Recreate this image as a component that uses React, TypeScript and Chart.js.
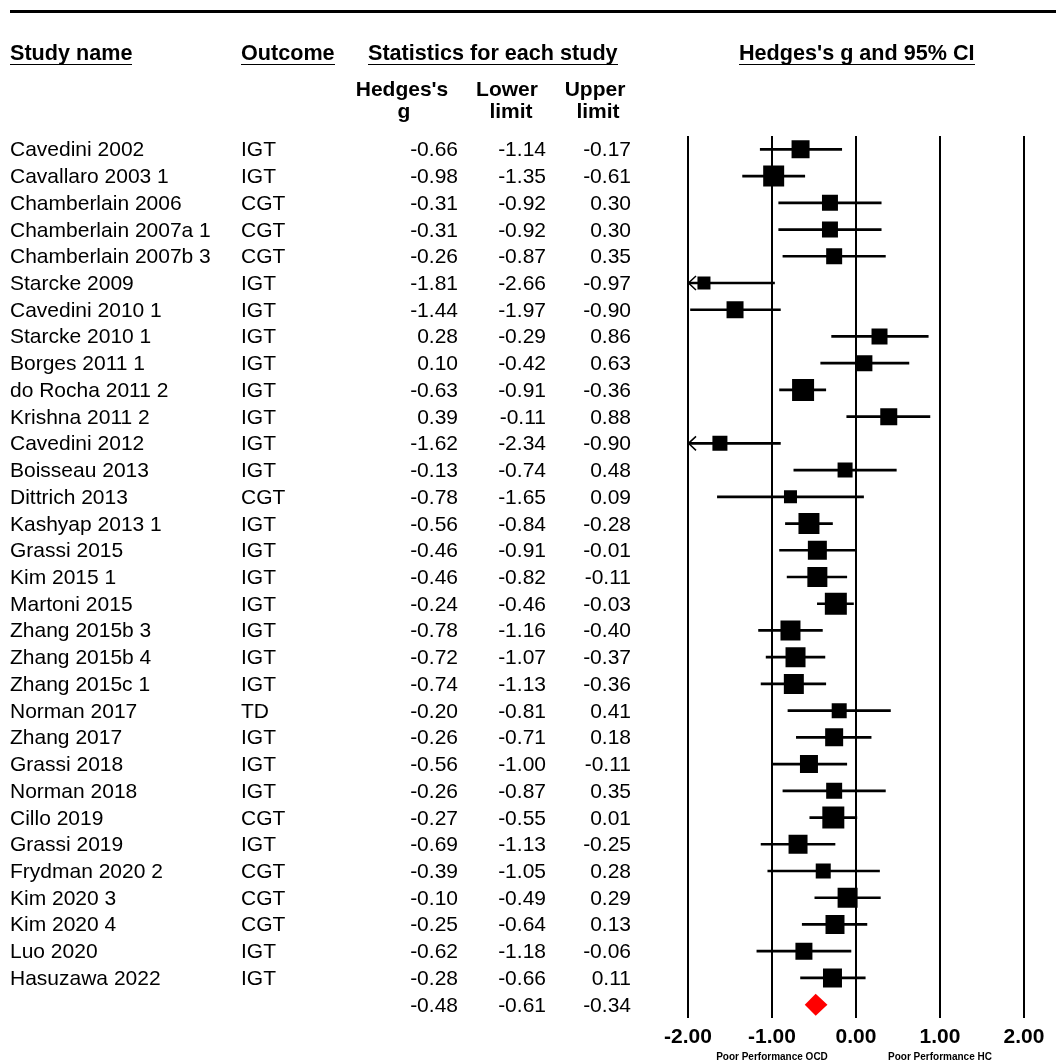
import React, { useEffect, useRef } from "react";
import { Chart, registerables } from "chart.js";

Chart.register(...registerables);

const studies = [
  "Cavedini 2002", "Cavallaro 2003 1", "Chamberlain 2006", "Chamberlain 2007a 1",
  "Chamberlain 2007b 3", "Starcke 2009", "Cavedini 2010 1", "Starcke 2010 1",
  "Borges 2011 1", "do Rocha 2011 2", "Krishna 2011 2", "Cavedini 2012",
  "Boisseau 2013", "Dittrich 2013", "Kashyap 2013 1", "Grassi 2015",
  "Kim 2015 1", "Martoni 2015", "Zhang 2015b 3", "Zhang 2015b 4",
  "Zhang 2015c 1", "Norman 2017", "Zhang 2017", "Grassi 2018",
  "Norman 2018", "Cillo 2019", "Grassi 2019", "Frydman 2020 2",
  "Kim 2020 3", "Kim 2020 4", "Luo 2020", "Hasuzawa 2022",
];
const outcomes = [
  "IGT", "IGT", "CGT", "CGT", "CGT", "IGT", "IGT", "IGT",
  "IGT", "IGT", "IGT", "IGT", "IGT", "CGT", "IGT", "IGT",
  "IGT", "IGT", "IGT", "IGT", "IGT", "TD", "IGT", "IGT",
  "IGT", "CGT", "IGT", "CGT", "CGT", "CGT", "IGT", "IGT",
];
const hedgesG = [
  -0.66, -0.98, -0.31, -0.31, -0.26, -1.81, -1.44, 0.28,
  0.10, -0.63, 0.39, -1.62, -0.13, -0.78, -0.56, -0.46,
  -0.46, -0.24, -0.78, -0.72, -0.74, -0.20, -0.26, -0.56,
  -0.26, -0.27, -0.69, -0.39, -0.10, -0.25, -0.62, -0.28,
];
const lowerLimit = [
  -1.14, -1.35, -0.92, -0.92, -0.87, -2.66, -1.97, -0.29,
  -0.42, -0.91, -0.11, -2.34, -0.74, -1.65, -0.84, -0.91,
  -0.82, -0.46, -1.16, -1.07, -1.13, -0.81, -0.71, -1.00,
  -0.87, -0.55, -1.13, -1.05, -0.49, -0.64, -1.18, -0.66,
];
const upperLimit = [
  -0.17, -0.61, 0.30, 0.30, 0.35, -0.97, -0.90, 0.86,
  0.63, -0.36, 0.88, -0.90, 0.48, 0.09, -0.28, -0.01,
  -0.11, -0.03, -0.40, -0.37, -0.36, 0.41, 0.18, -0.11,
  0.35, 0.01, -0.25, 0.28, 0.29, 0.13, -0.06, 0.11,
];
// relative weights (%)
const weights = [
  3.12, 4.24, 2.46, 2.46, 2.46, 1.63, 2.78, 2.46,
  2.46, 4.66, 2.78, 2.17, 2.17, 1.63, 4.24, 3.47,
  3.85, 4.66, 3.85, 3.85, 3.85, 2.17, 3.12, 3.12,
  2.46, 4.66, 3.47, 2.17, 3.85, 3.47, 2.78, 3.47,
];
const summaryValues = [-0.48, -0.61, -0.34]; // g, lower, upper
const xTicks = [-2, -1, 0, 1, 2];
const xAxisNotes = ["Poor Performance OCD", "Poor Performance HC"];
const xAxisNoteAt = [-1, 1];

const W = 1056;
const H = 1063;
const PLOT_LEFT = 688;
const PLOT_RIGHT = 1024;
const PLOT_TOP = 136;
const PLOT_BOTTOM = 1018;
const N_ROWS = studies.length + 1;
const ROW_H = (PLOT_BOTTOM - PLOT_TOP) / N_ROWS;
const rowY = (i: number) => PLOT_TOP + (i + 0.5) * ROW_H;
const FONT = '"Liberation Sans", Arial, Helvetica, sans-serif';
const FS = 21;
const HFS = 21.6;
const LH = 24;
const X_MIN = -2;
const X_MAX = 2;
const pxPerUnit = (PLOT_RIGHT - PLOT_LEFT) / (X_MAX - X_MIN);
const xPix = (v: number) => PLOT_LEFT + (v - X_MIN) * pxPerUnit;

const fmt = (v: number) => v.toFixed(2);

type TxtProps = {
  x: number;
  y: number;
  align?: "left" | "right" | "center";
  bold?: boolean;
  size?: number;
  underline?: boolean;
  children: React.ReactNode;
};

function Txt({ x, y, align = "left", bold = false, size = FS, underline = false, children }: TxtProps) {
  const lh = underline ? 23 : LH;
  const boxW = 400;
  let left = x;
  if (align === "right") left = x - boxW;
  if (align === "center") left = x - boxW / 2;
  const style: React.CSSProperties = {
    position: "absolute",
    left,
    top: y - lh / 2,
    width: align === "left" ? undefined : boxW,
    textAlign: align,
    whiteSpace: "nowrap",
    fontFamily: FONT,
    fontSize: size,
    fontWeight: bold ? "bold" : "normal",
    lineHeight: lh + "px",
    color: "#000",
  };
  return (
    <div style={style}>
      {underline ? (
        <span style={{ display: "inline-block", borderBottom: "1.5px solid #000", lineHeight: lh + "px" }}>
          {children}
        </span>
      ) : (
        children
      )}
    </div>
  );
}

const forestPlugin = {
  id: "forestExtras",
  afterDatasetsDraw(chart: any) {
    const { ctx } = chart;
    const xs = chart.scales.x;
    const ys = chart.scales.y;
    ctx.save();
    // arrows for intervals that run past the axis minimum
    ctx.strokeStyle = "#000";
    ctx.lineWidth = 1.5;
    lowerLimit.forEach((l, i) => {
      if (l < xs.min) {
        const py = ys.getPixelForValue(i);
        const px = xs.getPixelForValue(xs.min);
        ctx.beginPath();
        ctx.moveTo(px + 8, py - 7);
        ctx.lineTo(px + 0.5, py);
        ctx.lineTo(px + 8, py + 7);
        ctx.stroke();
      }
    });
    // summary diamond
    const sy = ys.getPixelForValue(studies.length);
    const cx = xs.getPixelForValue(summaryValues[0]);
    const lx = xs.getPixelForValue(summaryValues[1]);
    const rx = xs.getPixelForValue(summaryValues[2]);
    const hh = 11;
    ctx.beginPath();
    ctx.moveTo(lx, sy);
    ctx.lineTo(cx, sy - hh);
    ctx.lineTo(rx, sy);
    ctx.lineTo(cx, sy + hh);
    ctx.closePath();
    ctx.fillStyle = "#ff0000";
    ctx.fill();
    ctx.restore();
  },
};

export default function App() {
  const canvasRef = useRef<HTMLCanvasElement | null>(null);

  useEffect(() => {
    if (!canvasRef.current) return;
    const labels = [...studies, "Summary"];
    const sideOf = (w: number) => 10.19 * Math.sqrt(w);
    const chart = new Chart(canvasRef.current, {
      type: "bar",
      data: {
        labels,
        datasets: [
          {
            type: "scatter",
            data: hedgesG.map((v, i) => ({ x: v, y: i })),
            pointStyle: "rect",
            pointRadius: weights.map((w) => sideOf(w) / Math.SQRT2),
            pointHoverRadius: weights.map((w) => sideOf(w) / Math.SQRT2),
            backgroundColor: "#000",
            borderColor: "#000",
            borderWidth: 0,
            order: 0,
          } as any,
          {
            type: "bar",
            data: lowerLimit.map((l, i) => [l, upperLimit[i]]),
            backgroundColor: "#000",
            borderWidth: 0,
            barThickness: 2,
            order: 1,
          } as any,
        ],
      },
      options: {
        indexAxis: "y",
        animation: false,
        responsive: false,
        events: [],
        layout: {
          padding: { left: PLOT_LEFT, right: W - PLOT_RIGHT, top: PLOT_TOP, bottom: 0 },
        },
        plugins: {
          legend: { display: false },
          tooltip: { enabled: false },
          title: { display: false },
        },
        scales: {
          x: {
            type: "linear",
            position: "bottom",
            min: X_MIN,
            max: X_MAX,
            afterBuildTicks: (s: any) => {
              s.ticks = xTicks.map((v) => ({ value: v }));
            },
            afterFit: (s: any) => {
              s.height = H - PLOT_BOTTOM;
            },
            ticks: {
              callback: (v: any) => Number(v).toFixed(2),
              color: "#000",
              font: { family: FONT, size: 21, weight: "bold" },
              padding: 7,
              maxRotation: 0,
              autoSkip: false,
            },
            grid: { color: "#000", lineWidth: 2, drawTicks: false },
            border: { display: false },
          },
          y: {
            type: "category",
            display: false,
            offset: true,
            grid: { display: false },
          },
        },
      } as any,
      plugins: [forestPlugin],
    });
    return () => chart.destroy();
  }, []);

  return (
    <div
      style={{
        position: "absolute",
        left: 0,
        top: 0,
        width: W,
        height: H,
        overflow: "hidden",
        background: "#fff",
      }}
    >
      <canvas
        ref={canvasRef}
        width={W}
        height={H}
        style={{ position: "absolute", left: 0, top: 0, width: W, height: H }}
      />
      <div style={{ position: "absolute", left: 10, right: 0, top: 10, height: 3, background: "#000" }} />

      <Txt x={10} y={52} bold underline size={HFS}>Study name</Txt>
      <Txt x={241} y={52} bold underline size={HFS}>Outcome</Txt>
      <Txt x={368} y={52} bold underline size={HFS}>Statistics for each study</Txt>
      <Txt x={739} y={52} bold underline size={HFS}>Hedges's g and 95% CI</Txt>

      <Txt x={402} y={89} align="center" bold>Hedges's</Txt>
      <Txt x={404} y={111} align="center" bold>g</Txt>
      <Txt x={507} y={89} align="center" bold>Lower</Txt>
      <Txt x={511} y={111} align="center" bold>limit</Txt>
      <Txt x={595} y={89} align="center" bold>Upper</Txt>
      <Txt x={598} y={111} align="center" bold>limit</Txt>

      {studies.map((s, i) => (
        <React.Fragment key={s}>
          <Txt x={10} y={rowY(i)}>{s}</Txt>
          <Txt x={241} y={rowY(i)}>{outcomes[i]}</Txt>
          <Txt x={458} y={rowY(i)} align="right">{fmt(hedgesG[i])}</Txt>
          <Txt x={546} y={rowY(i)} align="right">{fmt(lowerLimit[i])}</Txt>
          <Txt x={631} y={rowY(i)} align="right">{fmt(upperLimit[i])}</Txt>
        </React.Fragment>
      ))}
      <Txt x={458} y={rowY(studies.length)} align="right">{fmt(summaryValues[0])}</Txt>
      <Txt x={546} y={rowY(studies.length)} align="right">{fmt(summaryValues[1])}</Txt>
      <Txt x={631} y={rowY(studies.length)} align="right">{fmt(summaryValues[2])}</Txt>

      {xAxisNotes.map((n, i) => (
        <Txt key={n} x={xPix(xAxisNoteAt[i])} y={1057} align="center" bold size={10}>{n}</Txt>
      ))}
    </div>
  );
}
